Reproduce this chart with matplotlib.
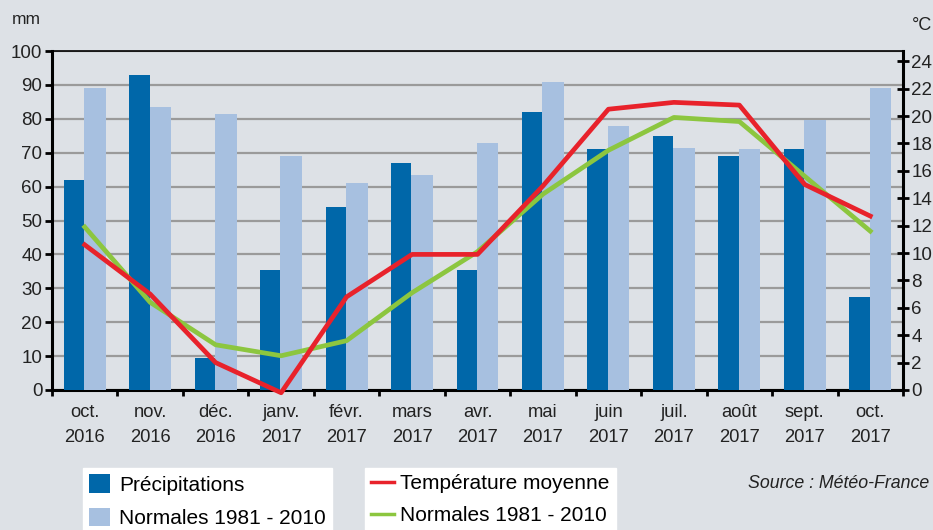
import matplotlib
matplotlib.use("Agg")
import matplotlib.pyplot as plt
import numpy as np

months = ["oct.\n2016", "nov.\n2016", "déc.\n2016", "janv.\n2017", "févr.\n2017", "mars\n2017",
          "avr.\n2017", "mai\n2017", "juin\n2017", "juil.\n2017", "août\n2017", "sept.\n2017", "oct.\n2017"]
precip = [62, 93, 9.5, 35.5, 54, 67, 35.5, 82, 71, 75, 69, 71, 27.5]
precip_norm = [89, 83.5, 81.5, 69, 61, 63.5, 73, 91, 78, 71.5, 71, 79.5, 89]
temp = [10.6, 7.0, 2.0, -0.2, 6.8, 9.9, 9.9, 14.9, 20.5, 21.0, 20.8, 15.0, 12.7]
temp_norm = [11.9, 6.4, 3.3, 2.5, 3.6, 7.1, 10.1, 14.3, 17.5, 19.9, 19.6, 15.6, 11.6]

BG = "#dde1e6"
DARK = "#0067a9"
LIGHT = "#a7c0e0"
RED = "#e8222b"
GREEN = "#8cc63f"
TXT = "#222222"

plt.rcParams['font.family'] = ['Liberation Sans', 'DejaVu Sans']

fig = plt.figure(figsize=(9.33, 5.30), dpi=100, facecolor=BG)
ax = fig.add_axes([52/933, 1-390/530, (903-52)/933, (390-51)/530])
ax.set_facecolor(BG)
x = np.arange(len(months))
w = 0.31
b1 = ax.bar(x - 0.165, precip, width=w, color=DARK, zorder=3, label="Précipitations")
b2 = ax.bar(x + 0.155, precip_norm, width=w+0.02, color=LIGHT, zorder=3, label="Normales 1981 - 2010")
ax.set_xlim(-0.5, len(months) - 0.5)
ax.set_ylim(0, 100)
ax.set_yticks(range(0, 101, 10))
ax.yaxis.grid(True, color="#9a9a9a", linewidth=1.6, zorder=0)
ax.set_axisbelow(True)
ax.set_xticks(x)
ax.set_xticklabels(months, fontsize=13.2, color=TXT, linespacing=1.6)
ax.tick_params(axis='x', length=0, pad=10)
ax.set_xticks(np.arange(-0.5, len(months)), minor=True)
ax.tick_params(axis='x', which='minor', length=4, width=2, direction='out')
ax.tick_params(axis='y', labelsize=13.5, labelcolor=TXT, length=5, width=2, direction='out', pad=2)
for s in ['left', 'bottom']:
    ax.spines[s].set_linewidth(2.2)
ax.spines['top'].set_linewidth(1.2)
ax.spines['right'].set_visible(False)

ax2 = ax.twinx()
ax2.set_ylim(0, 24.75)
ax2.set_yticks(range(0, 25, 2))
ax2.tick_params(axis='y', labelsize=13.5, labelcolor=TXT, length=8, width=2, direction='inout', pad=2)
ax2.spines['right'].set_linewidth(2.2)
for s in ['left', 'top', 'bottom']:
    ax2.spines[s].set_visible(False)
l1, = ax2.plot(x, temp, color=RED, linewidth=3.4, zorder=5, clip_on=False, label="Température moyenne")
l2, = ax2.plot(x, temp_norm, color=GREEN, linewidth=3.4, zorder=4, clip_on=False, label="Normales 1981 - 2010")

fig.text(12/933, 1-20/530, "mm", fontsize=12.5, color=TXT, va='center')
fig.text(912/933, 1-25/530, "°C", fontsize=13, color=TXT, va='center')
fig.text(929/933, 1-483/530, "Source : Météo-France", fontsize=12.8, style='italic', color=TXT,
         va='center', ha='right')

leg1 = fig.legend(handles=[b1, b2], loc='upper left', bbox_to_anchor=(83/933, 1-468/530),
                  fancybox=False, framealpha=1, facecolor='white', edgecolor='white',
                  fontsize=15, handlelength=1.0, handleheight=1.0, handletextpad=0.45,
                  borderpad=0.3, labelspacing=0.62, borderaxespad=0)
leg2 = fig.legend(handles=[l1, l2], loc='upper left', bbox_to_anchor=(365/933, 1-468/530),
                  fancybox=False, framealpha=1, facecolor='white', edgecolor='white',
                  fontsize=15, handlelength=1.1, handletextpad=0.3,
                  borderpad=0.3, labelspacing=0.62, borderaxespad=0)
for h in leg2.get_lines():
    h.set_linewidth(2.5)

fig.savefig("out.png", dpi=100, facecolor=BG)
